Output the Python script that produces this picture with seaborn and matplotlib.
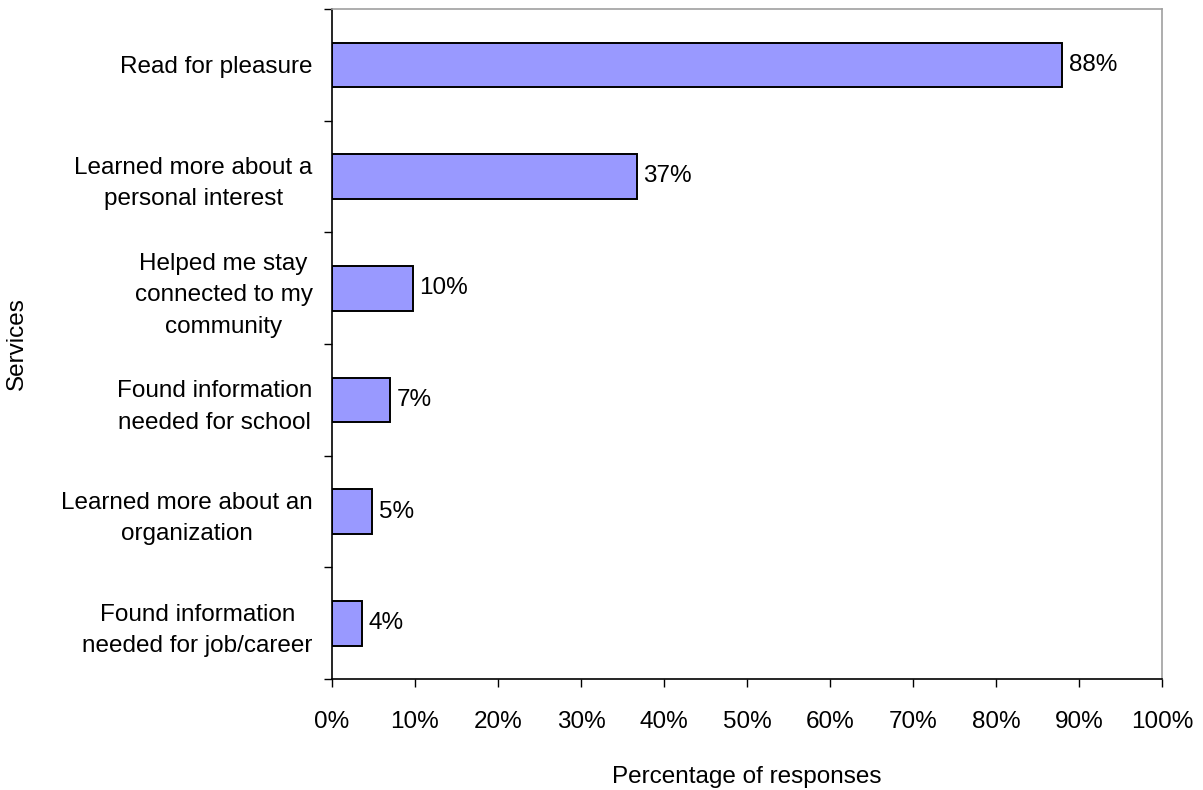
import matplotlib
matplotlib.use("Agg")
import matplotlib.pyplot as plt
import seaborn as sns
import pandas as pd
import numpy as np

categories = [
    "Read for pleasure",
    "Learned more about a\npersonal interest",
    "Helped me stay\nconnected to my\ncommunity",
    "Found information\nneeded for school",
    "Learned more about an\norganization",
    "Found information\nneeded for job/career",
]
values = [88.0, 36.7, 9.7, 7.0, 4.8, 3.6]
value_labels = ["88%", "37%", "10%", "7%", "5%", "4%"]
x_ticks = [0, 10, 20, 30, 40, 50, 60, 70, 80, 90, 100]
x_tick_labels = [f"{t}%" for t in x_ticks]

sns.set_style("white")
plt.rcParams["font.family"] = ["Liberation Sans", "DejaVu Sans"]
plt.rcParams["text.color"] = "black"
plt.rcParams["axes.labelcolor"] = "black"
plt.rcParams["xtick.color"] = "black"
plt.rcParams["ytick.color"] = "black"

df = pd.DataFrame({"Services": categories, "Percent": values})

fig = plt.figure(figsize=(12.03, 7.90), dpi=100)
ax = fig.add_axes([332 / 1203, 1 - 679 / 790, (1162 - 332) / 1203, (679 - 9) / 790])

sns.barplot(data=df, x="Percent", y="Services", orient="h", color="#9999FF",
            saturation=1, width=0.4, edgecolor="black", linewidth=1.4, ax=ax)

ax.set_xlim(0, 100)
ax.set_ylim(len(categories) - 0.5, -0.5)
ax.set_xticks(x_ticks)
ax.set_xticklabels(x_tick_labels, fontsize=17.5, color="black")
ax.tick_params(axis="x", direction="out", length=6, width=1, color="black",
               pad=17, bottom=True)
ax.set_yticks(range(len(categories)))
ax.set_yticklabels(categories, fontsize=17.5, linespacing=1.55, ha="right",
                   color="black")
for lbl in ax.get_yticklabels():
    lbl.set_multialignment("center")
ax.tick_params(axis="y", which="major", length=0, pad=14)

ax.set_yticks(np.arange(-0.5, len(categories), 1.0), minor=True)
ax.tick_params(axis="y", which="minor", direction="out", length=6, width=1,
               color="black", left=True)

for i, (v, t) in enumerate(zip(values, value_labels)):
    ax.annotate(t, xy=(v, i), xytext=(5, 0), textcoords="offset points",
                va="center", ha="left", fontsize=17.5, color="black")

ax.set_xlabel("Percentage of responses", fontsize=17.5, labelpad=24, color="black")
ax.set_ylabel("Services", fontsize=17.5, labelpad=24, color="black")

for side in ["left", "bottom"]:
    ax.spines[side].set_color("black")
    ax.spines[side].set_linewidth(1.2)
for side in ["top", "right"]:
    ax.spines[side].set_color("#A0A0A0")
    ax.spines[side].set_linewidth(1.2)
    ax.spines[side].set_visible(True)

fig.savefig("out.png", dpi=100)
